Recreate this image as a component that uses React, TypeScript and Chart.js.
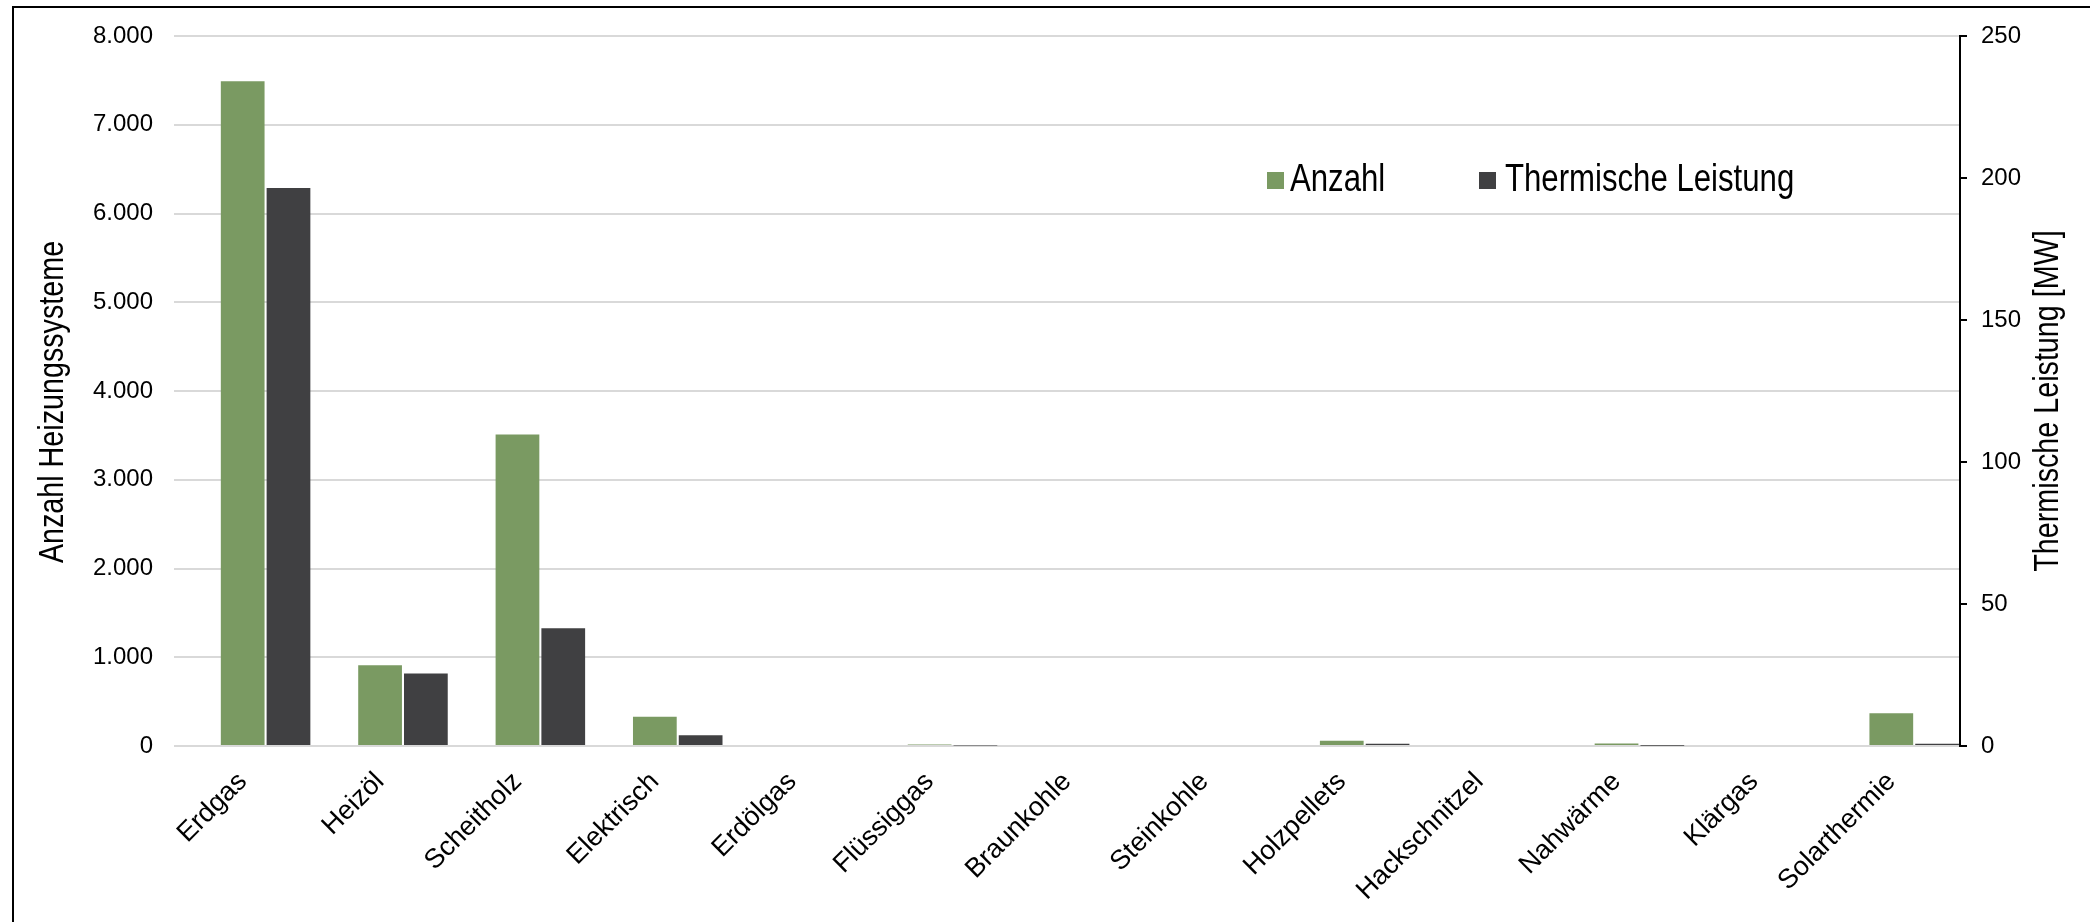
import React, { useEffect, useRef } from 'react';
import { Chart, registerables } from 'chart.js';

Chart.register(...registerables);

const categories = [
  'Erdgas', 'Heizöl', 'Scheitholz', 'Elektrisch', 'Erdölgas', 'Flüssiggas',
  'Braunkohle', 'Steinkohle', 'Holzpellets', 'Hackschnitzel', 'Nahwärme', 'Klärgas', 'Solarthermie',
];
const anzahlValues = [7490, 910, 3510, 330, 0, 18, 0, 0, 58, 0, 28, 0, 370];
const leistungValues = [196.5, 25.5, 41.5, 3.8, 0, 0.2, 0, 0, 0.8, 0, 0.1, 0, 0.8];

const seriesLabels = ['Anzahl', 'Thermische Leistung'];
const seriesColors = ['#7a9a62', '#404042'];
const leftAxisTitle = 'Anzahl Heizungssysteme';
const rightAxisTitle = 'Thermische Leistung [MW]';
const leftAxisMax = 8000;
const leftAxisStep = 1000;
const rightAxisMax = 250;
const rightAxisStep = 50;

const FONT = '"Liberation Sans", Arial, sans-serif';

function fmtDE(v: number | string): string {
  return String(v).replace(/\B(?=(\d{3})+(?!\d))/g, '.');
}

function narrowText(ctx: CanvasRenderingContext2D, text: string, x: number, y: number, rot: number, size: number, align: CanvasTextAlign) {
  ctx.save();
  ctx.translate(x, y);
  ctx.rotate(rot);
  ctx.scale(0.82, 1);
  ctx.font = `${size}px ${FONT}`;
  ctx.textAlign = align;
  ctx.textBaseline = 'middle';
  ctx.fillStyle = '#000';
  ctx.fillText(text, 0, 0);
  ctx.restore();
}

const customTextPlugin = {
  id: 'customText',
  afterDraw(chart: any) {
    const ctx: CanvasRenderingContext2D = chart.ctx;
    // axis titles
    narrowText(ctx, leftAxisTitle, 53, 402, -Math.PI / 2, 35, 'center');
    narrowText(ctx, rightAxisTitle, 2048, 401, -Math.PI / 2, 35, 'center');
    // legend
    const legendItems = [
      { x: 1267, textX: 1290 },
      { x: 1479, textX: 1505 },
    ];
    legendItems.forEach((it, i) => {
      ctx.save();
      ctx.fillStyle = seriesColors[i];
      ctx.fillRect(it.x, 172, 17, 17);
      ctx.restore();
      narrowText(ctx, seriesLabels[i], it.textX, 181, 0, 38, 'left');
    });
  },
};

export default function App() {
  const ref = useRef<HTMLCanvasElement>(null);

  useEffect(() => {
    const tickFont = { family: FONT, size: 24 };
    const chart = new Chart(ref.current as HTMLCanvasElement, {
      type: 'bar',
      data: {
        labels: categories,
        datasets: [
          {
            label: '_spacer',
            data: categories.map(() => null),
            yAxisID: 'y',
            backgroundColor: 'rgba(0,0,0,0)',
          },
          {
            label: seriesLabels[0],
            data: anzahlValues,
            yAxisID: 'y',
            backgroundColor: seriesColors[0],
            borderWidth: 0,
          },
          {
            label: seriesLabels[1],
            data: leistungValues,
            yAxisID: 'y1',
            backgroundColor: seriesColors[1],
            borderWidth: 0,
          },
        ],
      },
      options: {
        responsive: false,
        animation: false,
        devicePixelRatio: 1,
        layout: { padding: { top: 36, left: 0, right: 0, bottom: 0 } },
        datasets: {
          bar: { categoryPercentage: 1.0, barPercentage: 0.955 },
        },
        plugins: {
          legend: { display: false },
          tooltip: { enabled: false },
          title: { display: false },
        },
        scales: {
          x: {
            offset: true,
            grid: { display: false, drawTicks: false },
            border: { display: false },
            ticks: {
              autoSkip: false,
              minRotation: 45,
              maxRotation: 45,
              padding: 20,
              color: '#000',
              font: { family: FONT, size: 27 },
            },
            afterFit: (s: any) => { s.height = 176; },
          },
          y: {
            position: 'left',
            min: 0,
            max: leftAxisMax,
            ticks: {
              stepSize: leftAxisStep,
              padding: 21,
              color: '#000',
              font: tickFont,
              callback: (v: any) => fmtDE(v),
            },
            grid: { color: '#d9d9d9', lineWidth: 2, drawTicks: false },
            border: { display: false },
            afterFit: (s: any) => { s.width = 174; },
          },
          y1: {
            position: 'right',
            min: 0,
            max: rightAxisMax,
            ticks: {
              stepSize: rightAxisStep,
              padding: 14,
              color: '#000',
              font: tickFont,
            },
            grid: { drawOnChartArea: false, drawTicks: true, tickLength: 7, color: '#000', lineWidth: 2 },
            border: { display: true, color: '#000', width: 2 },
            afterFit: (s: any) => { s.width = 130; },
          },
        },
      },
      plugins: [customTextPlugin],
    } as any);
    return () => chart.destroy();
  }, []);

  return (
    <>
      <div style={{ position: 'fixed', left: 0, top: 0, width: 2090, height: 922, background: '#fff' }}>
        <canvas ref={ref} width={2090} height={922} style={{ display: 'block', width: 2090, height: 922 }} />
      </div>
      <div
        style={{
          position: 'fixed', left: 12, top: 6, right: 0, bottom: 0,
          borderLeft: '2px solid #000', borderTop: '2px solid #000', pointerEvents: 'none',
        }}
      />
    </>
  );
}
